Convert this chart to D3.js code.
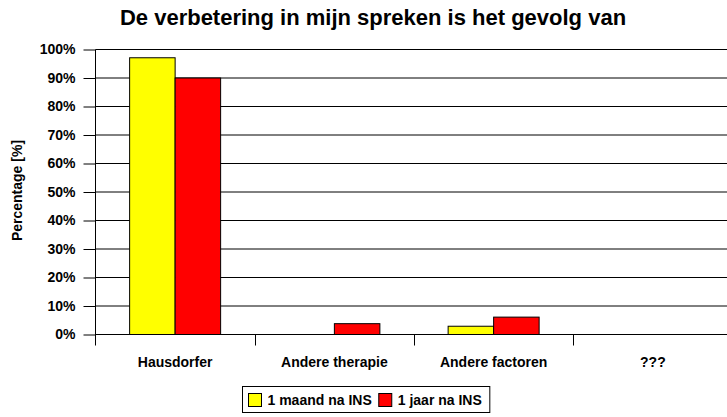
<!DOCTYPE html>
<html><head><meta charset="utf-8">
<script src="https://cdn.jsdelivr.net/npm/d3@7"></script>
<style>body{margin:0;background:#fff}svg{display:block}text{font-family:Arial,"Liberation Sans",sans-serif;font-weight:bold;fill:#000}</style>
</head><body><svg id="c" width="727" height="417"></svg>
<script>
const categories = ["Hausdorfer", "Andere therapie", "Andere factoren", "???"];
const seriesNames = ["1 maand na INS", "1 jaar na INS"];
const maand = [97.1, 0, 2.9, 0];
const jaar = [90.0, 3.8, 6.1, 0];
const yTicks = [0, 10, 20, 30, 40, 50, 60, 70, 80, 90, 100];
const colors = ["#ffff00", "#ff0000"];
const title = "De verbetering in mijn spreken is het gevolg van";
const yTitle = "Percentage [%]";

const FONT = "Arial, 'Liberation Sans', sans-serif";
const svg = d3.select("#c");
svg.append("rect").attr("width",727).attr("height",417).attr("fill","#fff");
const L = 95.5, R = 732.5, T = 49.5, B = 334.5;
const y = d3.scaleLinear().domain([0,100]).range([B,T]);
const x = d3.scaleBand().domain(categories).range([L,R]).paddingInner(0).paddingOuter(0);
const inner = d3.scaleBand().domain(seriesNames).range([0,x.bandwidth()]).paddingInner(0).paddingOuter(0.75);

// gridlines
svg.append("g").selectAll("line").data(yTicks).join("line")
  .attr("x1",L).attr("x2",R).attr("y1",d=>y(d)).attr("y2",d=>y(d))
  .attr("stroke","#000").attr("stroke-width",1);

// bars
const data = [maand, jaar];
data.forEach((vals,si)=>{
  svg.append("g").selectAll("rect").data(vals.map((v,i)=>({v,c:categories[i]}))).join("rect")
    .filter(d=>d.v>0)
    .attr("x",d=>x(d.c)+inner(seriesNames[si]))
    .attr("width",inner.bandwidth())
    .attr("y",d=>y(d.v))
    .attr("height",d=>B-y(d.v))
    .attr("fill",colors[si]).attr("stroke","#000").attr("stroke-width",1);
});

// y axis
const ya = d3.axisLeft(y).tickValues(yTicks).tickFormat(d=>d+"%").tickSize(12).tickPadding(8);
const gy = svg.append("g").attr("transform",`translate(${L},0)`).call(ya);
gy.select(".domain").remove();
gy.selectAll("line").attr("stroke","#000");
gy.selectAll("text").style("font-size","14px").style("font-family",FONT).style("font-weight","bold");
svg.append("line").attr("x1",L).attr("x2",L).attr("y1",T).attr("y2",B+11).attr("stroke","#000");

// x axis
const xa = d3.axisBottom(x).tickSize(0);
const gx = svg.append("g").attr("transform",`translate(0,${B})`).call(xa);
gx.select(".domain").remove();
gx.selectAll("text").attr("dy",null).attr("y",32.5).style("font-size","14px").style("font-family",FONT).style("font-weight","bold");
svg.append("g").selectAll("line").data(categories.slice(1)).join("line")
  .attr("x1",d=>Math.round(x(d))+0.5).attr("x2",d=>Math.round(x(d))+0.5)
  .attr("y1",B).attr("y2",B+11).attr("stroke","#000");

// title
svg.append("text").attr("x",373).attr("y",25).attr("text-anchor","middle").style("font-size","22px").text(title);
svg.append("text").attr("transform","translate(22,190.5) rotate(-90)").attr("text-anchor","middle").style("font-size","14px").text(yTitle);

// legend
const lg = svg.append("g");
const box = lg.append("rect").attr("x",242.5).attr("y",386.5).attr("height",26).attr("fill","#fff").attr("stroke","#000");
let cx = 248.5;
seriesNames.forEach((n,i)=>{
  lg.append("rect").attr("x",cx).attr("y",393.5).attr("width",13).attr("height",13).attr("fill",colors[i]).attr("stroke","#000");
  const t = lg.append("text").attr("x",cx+19).attr("y",405).style("font-size","14px").text(n);
  cx = cx + 19 + t.node().getComputedTextLength() + 7;
});
box.attr("width", cx - 7 + 8 - 242.5);
</script></body></html>
